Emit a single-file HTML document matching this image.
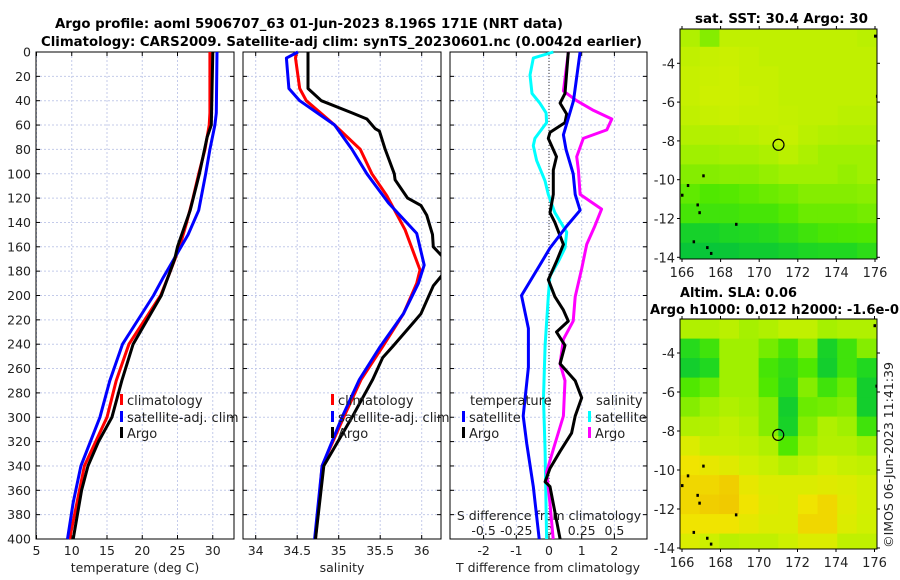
<!DOCTYPE html>
<html><head><meta charset="utf-8"><style>
html,body{margin:0;padding:0;background:#fff;}
svg{display:block;font-family:"DejaVu Sans","Liberation Sans",sans-serif;}
</style></head><body>
<svg id="fig" width="900" height="580" viewBox="0 0 900 580" xmlns="http://www.w3.org/2000/svg">
<text x="55" y="28" font-size="13" font-weight="bold" textLength="508" lengthAdjust="spacingAndGlyphs">Argo profile: aoml 5906707_63 01-Jun-2023 8.196S 171E (NRT data)</text>
<text x="41" y="46" font-size="13" font-weight="bold" textLength="601" lengthAdjust="spacingAndGlyphs">Climatology: CARS2009. Satellite-adj clim: synTS_20230601.nc (0.0042d earlier)</text>
<text x="695" y="23" font-size="13" font-weight="bold" textLength="173" lengthAdjust="spacingAndGlyphs">sat. SST: 30.4 Argo: 30</text>
<text x="680" y="297" font-size="13" font-weight="bold" textLength="117" lengthAdjust="spacingAndGlyphs">Altim. SLA: 0.06</text>
<text x="650" y="314" font-size="13" font-weight="bold" textLength="249" lengthAdjust="spacingAndGlyphs">Argo h1000: 0.012 h2000: -1.6e-0</text>
<text transform="translate(893,455) rotate(-90)" font-size="12.5" text-anchor="middle" fill="#222">©IMOS 06-Jun-2023 11:41:39</text>
<g id="layer"></g>
</svg>
<script>
// ---------- profile data (depth in dbar) ----------
const climTdepth = [0,50,60,80,100,120,140,160,180,200,240,270,300,340,400];
const climT      = [29.6,29.6,29.5,28.9,28.0,27.2,26.3,25.3,24.0,22.6,18.1,16.3,15.0,11.8,9.7];
const satTdepth  = [0,50,60,80,100,130,150,170,185,200,240,270,300,340,370,400];
const satT       = [30.6,30.5,30.3,29.6,29.0,28.0,26.5,24.5,23.0,21.6,17.2,15.4,14.0,11.3,10.2,9.4];
const argoTdepth = [0,60,70,100,130,160,170,200,240,270,300,320,340,360,400];
const argoT      = [30.0,29.8,29.2,28.1,26.8,25.0,24.6,22.7,18.7,17.1,15.7,13.8,12.3,11.4,10.2];

const climSdepth = [0,5,30,40,60,80,100,118,146,179,190,215,242,269,300,340,400];
const climS      = [34.49,34.48,34.53,34.61,34.95,35.26,35.40,35.58,35.80,35.98,35.94,35.78,35.53,35.27,35.06,34.80,34.72];
const satSdepth  = [0,5,30,40,60,80,100,124,149,175,190,215,242,269,300,340,400];
const satS       = [34.51,34.37,34.40,34.53,34.95,35.16,35.34,35.60,35.94,36.03,35.96,35.78,35.50,35.25,35.04,34.80,34.71];
const argoSdepth = [0,30,40,50,55,63,65,80,100,105,120,126,134,150,160,168,183,192,215,223,242,251,269,300,340,400];
const argoS      = [34.63,34.63,34.79,35.16,35.34,35.44,35.49,35.56,35.67,35.68,35.83,35.99,36.06,36.13,36.14,36.25,36.25,36.14,35.99,35.89,35.65,35.53,35.41,35.16,34.82,34.72];

const dTsatDepth = [0,40,68,80,100,117,130,143,161,175,200,227,259,299,322,357,400];
const dTsat      = [0.95,0.75,0.44,0.52,0.74,0.80,0.95,0.54,0.03,-0.28,-0.84,-0.63,-0.63,-0.79,-0.68,-0.48,-0.30];
const dTargoDepth= [0,34,42,51,58,66,71,86,97,117,132,140,158,172,187,201,212,221,230,241,256,270,284,299,313,328,342,353,357,400];
const dTargo     = [0.59,0.49,0.34,0.54,0.49,0.03,-0.02,0.23,0.13,0.13,0.03,0.18,0.44,0.23,-0.02,0.18,0.44,0.59,0.23,0.49,0.34,0.80,1.00,0.80,0.69,0.34,0.03,-0.12,0.03,0.34];
const dSsatDepth = [0,5,19,34,42,50,58,71,77,89,106,117,132,148,161,172,184,201,241,284,328,400];
const dSsat      = [0.033,-0.12,-0.145,-0.13,-0.07,-0.022,-0.018,-0.108,-0.12,-0.095,-0.03,-0.005,0.045,0.135,0.122,0.072,0.008,-0.005,-0.03,-0.042,-0.03,-0.018];
const dSargoDepth= [0,32,40,48,55,64,71,86,97,117,129,143,158,178,201,221,236,256,270,299,322,345,371,400];
const dSargo     = [0.148,0.11,0.212,0.34,0.48,0.442,0.262,0.212,0.225,0.238,0.402,0.35,0.288,0.25,0.2,0.185,0.11,0.085,0.122,0.11,0.045,-0.018,0.008,0.032];

const tTicks = [5,10,15,20,25,30];
const sTicks = [34,34.5,35,35.5,36];
const sTickLabels = ["34","34.5","35","35.5","36"];
const dTticks = [-2,-1,0,1,2];
const dSlabels = ["-0.5","-0.25","0","0.25","0.5"];
const dSlabelVals = [-0.5,-0.25,0,0.25,0.5];
const depthTicks = [0,20,40,60,80,100,120,140,160,180,200,220,240,260,280,300,320,340,360,380,400];

// ---------- map data (rows: north->south, cols: west->east) ----------
const mapLonEdge0 = 165.9, mapLonStep = 1.02;
const sstRowLat0 = -2.14, sstRowStep = 1.01;
const slaRowLat0 = -2.26, slaRowStep = 1.0;
const sstGrid = [
 [0.55,0.45,0.60,0.60,0.60,0.60,0.60,0.60,0.60,0.58],
 [0.60,0.62,0.63,0.62,0.60,0.60,0.60,0.60,0.60,0.60],
 [0.62,0.63,0.64,0.62,0.62,0.60,0.60,0.60,0.60,0.60],
 [0.62,0.64,0.64,0.63,0.62,0.60,0.60,0.60,0.60,0.60],
 [0.60,0.62,0.63,0.62,0.62,0.61,0.60,0.60,0.58,0.58],
 [0.56,0.56,0.57,0.58,0.60,0.62,0.58,0.56,0.55,0.55],
 [0.50,0.50,0.52,0.52,0.54,0.58,0.54,0.50,0.50,0.50],
 [0.45,0.45,0.46,0.46,0.48,0.50,0.50,0.50,0.48,0.50],
 [0.38,0.35,0.36,0.38,0.40,0.42,0.45,0.45,0.45,0.46],
 [0.32,0.30,0.30,0.32,0.32,0.36,0.40,0.40,0.40,0.42],
 [0.14,0.14,0.18,0.20,0.22,0.26,0.30,0.33,0.34,0.35],
 [0.05,0.05,0.06,0.10,0.10,0.14,0.18,0.20,0.20,0.24]
];
const slaGrid = [
 [0.55,0.55,0.58,0.52,0.55,0.60,0.60,0.52,0.55,0.55],
 [0.22,0.30,0.50,0.50,0.42,0.32,0.45,0.15,0.30,0.45],
 [0.12,0.20,0.50,0.50,0.32,0.25,0.35,0.12,0.30,0.20],
 [0.35,0.40,0.50,0.50,0.35,0.22,0.45,0.30,0.40,0.12],
 [0.45,0.50,0.55,0.52,0.45,0.12,0.40,0.42,0.45,0.12],
 [0.55,0.56,0.60,0.56,0.45,0.15,0.45,0.55,0.50,0.30],
 [0.70,0.62,0.62,0.60,0.55,0.35,0.50,0.56,0.56,0.50],
 [0.80,0.76,0.72,0.66,0.62,0.56,0.60,0.65,0.62,0.60],
 [0.86,0.86,0.90,0.76,0.70,0.70,0.70,0.72,0.70,0.66],
 [0.86,0.90,0.92,0.80,0.72,0.70,0.80,0.86,0.72,0.66],
 [0.80,0.80,0.80,0.75,0.70,0.70,0.86,0.86,0.70,0.65],
 [0.70,0.64,0.58,0.60,0.60,0.64,0.70,0.70,0.60,0.60]
];
const argoLon = 171.0, argoLat = -8.2;
const coastLon = [166.0,166.3,166.6,166.8,166.9,167.1,167.3,167.5,168.8,176.0,176.1];
const coastLat = [-10.8,-10.3,-13.2,-11.3,-11.7,-9.8,-13.5,-13.8,-12.3,-2.6,-5.7];
const mapLonTicks = [166,168,170,172,174,176];
const mapLatTicks = [-4,-6,-8,-10,-12,-14];

// ---------- helpers ----------
const NS="http://www.w3.org/2000/svg";
const layer=document.getElementById('layer');
function mk(tag,attrs,parent){const e=document.createElementNS(NS,tag);for(const k in attrs)e.setAttribute(k,attrs[k]);(parent||layer).appendChild(e);return e;}
const Y0=52, Y1=539;
function yD(d){return Y0+(d/400)*(Y1-Y0);}
const P1={x0:36,x1:234}, P2={x0:243,x1:441}, P3={x0:450,x1:647};
function xT(t){return 36.5+(t-5)*7.05;}
function xS(s){return 255.7+(s-34)*83;}
function xdT(t){return 549+t*32.7;}
function xdS(s){return 549+s*4*32.7;}

function gridAndFrame(P,xs,fx,name){
  const g=mk('g',{});
  
  
  xs.forEach(v=>{const x=fx(v);mk('line',{x1:x,x2:x,y1:Y0,y2:Y1,stroke:'#c4cbea','stroke-width':1,'stroke-dasharray':'2,2'},g);});
  depthTicks.forEach(d=>{const y=yD(d);mk('line',{x1:P.x0,x2:P.x1,y1:y,y2:y,stroke:'#c4cbea','stroke-width':1,'stroke-dasharray':'2,2'},g);
    mk('line',{x1:P.x0,x2:P.x0+4,y1:y,y2:y,stroke:'#000'},g);mk('line',{x1:P.x1-4,x2:P.x1,y1:y,y2:y,stroke:'#000'},g);});
  xs.forEach(v=>{const x=fx(v);mk('line',{x1:x,x2:x,y1:Y0,y2:Y0+4,stroke:'#000'},g);mk('line',{x1:x,x2:x,y1:Y1-4,y2:Y1,stroke:'#000'},g);});
  const r=mk('rect',{x:P.x0,y:Y0,width:P.x1-P.x0,height:Y1-Y0,fill:'none',stroke:'#000','stroke-width':1});
  
  
}
function clipFor(P,id){const c=mk('clipPath',{id:id});mk('rect',{x:P.x0,y:Y0-2,width:P.x1-P.x0,height:Y1-Y0+4},c);}
function line(xs,ds,fx,color,name,clip){
  const pts=xs.map((v,i)=>fx(v).toFixed(1)+','+yD(ds[i]).toFixed(1)).join(' ');
  const p=mk('polyline',{points:pts,fill:'none',stroke:color,'stroke-width':3,'stroke-linejoin':'round','clip-path':'url(#'+clip+')'});
  
  
}
function txt(s,x,y,opt){const t=mk('text',Object.assign({x:x,y:y,'font-size':12.5,fill:'#222'},opt||{}));t.textContent=s;return t;}

gridAndFrame(P1,tTicks,xT,'temperature-panel');
gridAndFrame(P2,sTicks,xS,'salinity-panel');
gridAndFrame(P3,dTticks,xdT,'difference-panel');
clipFor(P1,'c1');clipFor(P2,'c2');clipFor(P3,'c3');

depthTicks.forEach(d=>{const t=txt(String(d),31,yD(d)+4.5,{'text-anchor':'end'});

});
tTicks.forEach(v=>{const t=txt(String(v),xT(v),555,{'text-anchor':'middle'});

});
sTicks.forEach((v,i)=>{const t=txt(sTickLabels[i],xS(v),555,{'text-anchor':'middle'});

});
dTticks.forEach(v=>{const t=txt(String(v),xdT(v),555,{'text-anchor':'middle'});

});
let a=txt('temperature (deg C)',135,572,{'text-anchor':'middle'});


a=txt('salinity',342,572,{'text-anchor':'middle'});


a=txt('T difference from climatology',548,572,{'text-anchor':'middle'});


a=txt('S difference from climatology',549,520,{'text-anchor':'middle'});


dSlabelVals.forEach((v,i)=>{const t=txt(dSlabels[i],xdS(v),535,{'text-anchor':'middle'});

});

const z=mk('line',{x1:xdT(0),x2:xdT(0),y1:Y0,y2:Y1,stroke:'#333','stroke-width':1,'stroke-dasharray':'1,2'});



line(climT,climTdepth,xT,'#ff0000','climatology-temperature-line','c1');
line(satT,satTdepth,xT,'#0000ff','satellite-temperature-line','c1');
line(argoT,argoTdepth,xT,'#000000','argo-temperature-line','c1');
line(climS,climSdepth,xS,'#ff0000','climatology-salinity-line','c2');
line(satS,satSdepth,xS,'#0000ff','satellite-salinity-line','c2');
line(argoS,argoSdepth,xS,'#000000','argo-salinity-line','c2');
line(dSsat,dSsatDepth,xdS,'#00ffff','satellite-salinity-diff-line','c3');
line(dSargo,dSargoDepth,xdS,'#ff00ff','argo-salinity-diff-line','c3');
line(dTargo,dTargoDepth,xdT,'#000000','argo-temperature-diff-line','c3');
line(dTsat,dTsatDepth,xdT,'#0000ff','satellite-temperature-diff-line','c3');

function legend(x,y,color,label,name){
  const r=mk('rect',{x:x,y:y-6,width:3,height:11,fill:color});
  
  
  const t=txt(label,x+7,y+5,{'font-size':13});
  
  
}
legend(120,400,'#ff0000','climatology','legend-climatology-t');
legend(120,417,'#0000ff','satellite-adj. clim','legend-satellite-t');
legend(120,433,'#000000','Argo','legend-argo-t');
legend(331,400,'#ff0000','climatology','legend-climatology-s');
legend(331,417,'#0000ff','satellite-adj. clim','legend-satellite-s');
legend(331,433,'#000000','Argo','legend-argo-s');
a=txt('temperature',470,405,{'font-size':13});


a=txt('salinity',596,405,{'font-size':13});


legend(462,417,'#0000ff','satellite','legend-t-satellite');
legend(462,433,'#000000','Argo','legend-t-argo');
legend(588,417,'#00ffff','satellite','legend-s-satellite');
legend(588,433,'#ff00ff','Argo','legend-s-argo');

const stops=[[0,[0,192,64]],[0.2,[32,216,32]],[0.35,[80,232,0]],[0.5,[160,240,0]],[0.65,[208,240,0]],[0.8,[240,228,0]],[1,[240,184,0]]];
function cmap(v){for(let i=1;i<stops.length;i++){if(v<=stops[i][0]){const a=stops[i-1],b=stops[i];const f=(v-a[0])/(b[0]-a[0]);
 const c=a[1].map((q,k)=>Math.round(q+(b[1][k]-q)*f));return 'rgb('+c.join(',')+')';}}return 'rgb(240,184,0)';}
function drawMap(M,grid,lat0,latStep,name){
  const fx=lon=>M.lx+(lon-166)*M.kx;
  const fy=lat=>M.ly+(-4-lat)*M.ky;
  const cid=name+'-clip';
  const c=mk('clipPath',{id:cid});mk('rect',{x:M.x0,y:M.y0,width:M.x1-M.x0,height:M.y1-M.y0},c);
  const g=mk('g',{'clip-path':'url(#'+cid+')'});
  
  
  grid.forEach((row,r)=>row.forEach((v,cI)=>{
    const lonA=mapLonEdge0+cI*mapLonStep, latA=lat0-r*latStep;
    const x=fx(lonA), y=fy(latA);
    const cell=mk('rect',{x:x.toFixed(1),y:y.toFixed(1),width:(mapLonStep*M.kx+0.6).toFixed(1),height:(latStep*M.ky+0.6).toFixed(1),fill:cmap(v)},g);
    
    
  }));
  coastLon.forEach((lon,i)=>{const d=mk('rect',{x:fx(lon)-1,y:fy(coastLat[i])-1.5,width:2.5,height:3,fill:'#000'},g);
    
    });
  const circ=mk('circle',{cx:fx(argoLon),cy:fy(argoLat),r:5.5,fill:'none',stroke:'#000','stroke-width':1.2});
  
  
  const fr=mk('rect',{x:M.x0,y:M.y0,width:M.x1-M.x0,height:M.y1-M.y0,fill:'none',stroke:'#000'});
  
  
  mapLonTicks.forEach(l=>{const x=fx(l);mk('line',{x1:x,x2:x,y1:M.y1,y2:M.y1+3,stroke:'#000'});mk('line',{x1:x,x2:x,y1:M.y0-3,y2:M.y0,stroke:'#000'});
    const t=txt(String(l),x,M.y1+18,{'text-anchor':'middle','font-size':13});
    
    });
  mapLatTicks.forEach(l=>{const y=fy(l);mk('line',{x1:M.x0-3,x2:M.x0,y1:y,y2:y,stroke:'#000'});mk('line',{x1:M.x1,x2:M.x1+3,y1:y,y2:y,stroke:'#000'});
    const t=txt(String(l),M.x0-5,y+5,{'text-anchor':'end','font-size':13});
    
    });
}
drawMap({x0:680,x1:877,y0:29,y1:259,lx:682,kx:19.3,ly:63.3,ky:19.4},sstGrid,sstRowLat0,sstRowStep,'sst-map');
drawMap({x0:680,x1:877,y0:319,y1:549,lx:682,kx:19.25,ly:353,ky:19.5},slaGrid,slaRowLat0,slaRowStep,'sla-map');
</script>
</body></html>
